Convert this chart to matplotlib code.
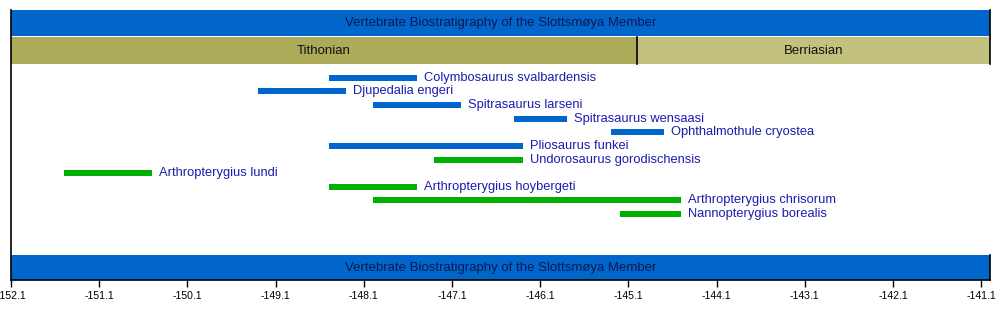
import matplotlib.pyplot as plt
from matplotlib.patches import Rectangle
import numpy as np

plt.rcParams['font.family'] = ['Liberation Sans', 'DejaVu Sans']

# taxa, ranges in Ma (negative = before present)
taxa = ['Colymbosaurus svalbardensis', 'Djupedalia engeri', 'Spitrasaurus larseni',
        'Spitrasaurus wensaasi', 'Ophthalmothule cryostea', 'Pliosaurus funkei',
        'Undorosaurus gorodischensis', 'Arthropterygius lundi',
        'Arthropterygius hoybergeti', 'Arthropterygius chrisorum',
        'Nannopterygius borealis']
starts = [-148.5, -149.3, -148.0, -146.4, -145.3, -148.5, -147.3, -151.5, -148.5, -148.0, -145.2]
ends = [-147.5, -148.3, -147.0, -145.8, -144.7, -146.3, -146.3, -150.5, -147.5, -144.5, -144.5]
groups = ['plesio', 'plesio', 'plesio', 'plesio', 'plesio', 'plesio',
          'ichthyo', 'ichthyo', 'ichthyo', 'ichthyo', 'ichthyo']

stages = ['Tithonian', 'Berriasian']
stage_start = [-152.1, -145.0]
stage_end = [-145.0, -141.0]

title = 'Vertebrate Biostratigraphy of the Slottsmøya Member'
xmin, xmax = -152.1, -141.0
ticks = np.arange(-152.1, -141.0, 1.0)

blue = '#0066cc'
green = '#00b000'
stage_cols = ['#abab5a', '#c2c27e']
txt_col = '#1c1cae'
colors = {'plesio': blue, 'ichthyo': green}

fig = plt.figure(figsize=(10, 3.3), dpi=100)
ax = fig.add_axes([0.011, 1 - 280 / 330, 0.979, 270 / 330])
ax.set_xlim(xmin, xmax)
# row 0 sits ~68 px below the top of the axes, rows 13.64 px apart
ax.set_ylim(202.3 / 13.64, -67.7 / 13.64)

for i, (n, s, e, g) in enumerate(zip(taxa, starts, ends, groups)):
    ax.barh(i, e - s, left=s, height=0.44, color=colors[g])
    ax.text(e + 0.08, i, n, color=txt_col, fontsize=9.3, va='center', ha='left')

tr = ax.get_xaxis_transform()
# header bands (in axes fraction for y)
top0, top1 = (280 - 35.7) / 270, 1.0
st0, st1 = (280 - 64) / 270, (280 - 37.3) / 270
bot0, bot1 = 0.0, 25 / 270
for y0, y1 in [(top0, top1), (bot0, bot1)]:
    ax.add_patch(Rectangle((xmin, y0), xmax - xmin, y1 - y0, transform=tr,
                           facecolor=blue, edgecolor='none', clip_on=False))
    ax.text((xmin + xmax) / 2, (y0 + y1) / 2, title, transform=tr, ha='center',
            va='center', fontsize=9.5, color='#0a1a50')
    ax.plot([xmax, xmax], [y0, y1], transform=tr, color='black', lw=1.2, clip_on=False)
for n, s, e, c in zip(stages, stage_start, stage_end, stage_cols):
    ax.add_patch(Rectangle((s, st0), e - s, st1 - st0, transform=tr,
                           facecolor=c, edgecolor='none', clip_on=False))
    ax.text((s + e) / 2, (st0 + st1) / 2, n, transform=tr, ha='center',
            va='center', fontsize=9.5, color='#111111')
    ax.plot([e, e], [st0, st1], transform=tr, color='black', lw=1.2, clip_on=False)

for sp in ['top', 'right']:
    ax.spines[sp].set_visible(False)
ax.spines['left'].set_linewidth(1.2)
ax.spines['bottom'].set_linewidth(1.2)
ax.set_yticks([])
ax.set_xticks(ticks)
ax.set_xticklabels(['%.1f' % t for t in ticks], fontsize=7.5)
ax.tick_params(axis='x', length=5, width=1, pad=3)

fig.savefig('out.png', dpi=100)
